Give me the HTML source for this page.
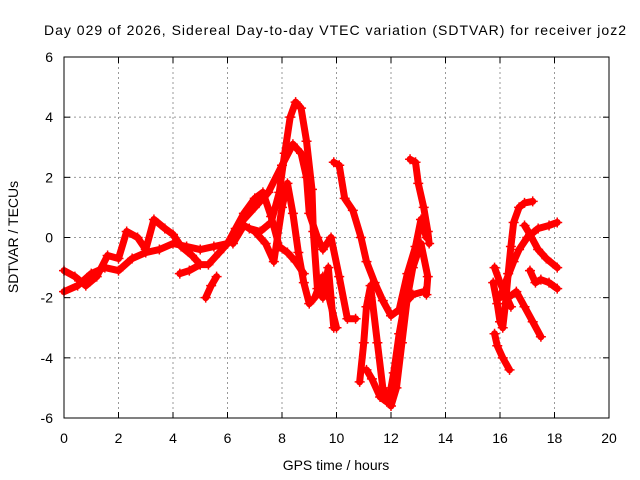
<!DOCTYPE html>
<html><head><meta charset="utf-8"><style>
body{margin:0;background:#fff}
svg{display:block;font-family:"Liberation Sans",sans-serif}
</style></head><body>
<svg id="chart" width="640" height="480">
<text x="335" y="35" font-size="14" text-anchor="middle" textLength="582">Day 029 of 2026, Sidereal Day-to-day VTEC variation (SDTVAR) for receiver joz2</text>
<text x="336" y="470" font-size="14" text-anchor="middle">GPS time / hours</text>
<text x="18" y="237" font-size="14" text-anchor="middle" transform="rotate(-90 18 237)">SDTVAR / TECUs</text>
<g id="grid"></g>
<g id="axes"></g>
<g id="series"></g>
<rect x="64" y="57" width="545" height="361" fill="none" stroke="#000" stroke-width="1"/>
</svg>
<script>
const xTicks=[0,2,4,6,8,10,12,14,16,18,20];
const yTicks=[-6,-4,-2,0,2,4,6];
const track1=[[0,-1.8],[0.5,-1.6],[1,-1.2],[1.5,-1.0],[2,-1.1],[2.5,-0.7],[3,-0.5],[3.5,-0.4],[4,-0.2],[4.5,-0.3],[5,-0.4],[5.5,-0.3],[6,-0.2],[6.5,0.5],[7,1.0],[7.5,1.5],[8,2.4],[8.4,3.1],[8.7,2.8],[8.9,2.0],[9,0.8],[9.3,0],[9.5,-0.4],[9.8,0],[10.1,-1.3],[10.4,-2.7],[10.7,-2.7]];
const track2=[[0,-1.1],[0.4,-1.3],[0.8,-1.6],[1.2,-1.3],[1.6,-0.6],[2,-0.7],[2.3,0.2],[2.7,0],[3,-0.4],[3.3,0.6],[3.7,0.3],[4,0.1],[4.3,-0.3],[4.7,-0.6],[5,-0.9],[5.3,-0.9],[5.7,-0.5],[6,-0.2],[6.3,0.3],[6.6,0.8],[7,1.3],[7.3,1.5],[7.6,0.7],[7.9,-0.3],[8.2,-0.5],[8.5,-0.8],[8.8,-1.2]];
const track3=[[6.8,0.3],[7.2,0.2],[7.6,0.5],[7.9,1.5],[8.1,2.8],[8.3,4.0],[8.5,4.5],[8.7,4.3],[8.9,3.2],[9.1,1.6],[9.15,0.2],[9.3,-1.7],[9.5,-2.0],[9.7,-1.0],[9.8,-2.0],[9.9,-3.0]];
const track4=[[6.2,-0.2],[6.6,0.4],[7,0.2],[7.4,-0.2],[7.7,-0.8],[8.0,1.0],[8.2,1.8],[8.4,0.8],[8.6,-0.5],[8.8,-1.5],[9.0,-2.2],[9.2,-2.0],[9.5,-1.3],[9.7,-1.9],[10,-3.0]];
const track5=[[9.9,2.5],[10.1,2.4],[10.3,1.3],[10.6,0.9],[10.9,0],[11.1,-0.8],[11.4,-1.5],[11.7,-2.1],[12,-2.6],[12.3,-2.4],[12.6,-1.2],[12.9,-0.3],[13.1,0.6],[13.3,0]];
const track6=[[12.7,2.6],[12.9,2.5],[13.0,1.8],[13.2,1.0],[13.35,0.2],[13.4,-0.2]];
const track7=[[10.85,-4.8],[11.0,-3.5],[11.1,-2.3],[11.25,-1.6],[11.5,-3.5],[11.7,-5.0],[12.0,-5.6],[12.2,-5.0],[12.4,-3.5],[12.6,-2.0],[12.8,-1.0],[13.1,-0.2],[13.35,-1.3],[13.3,-1.9]];
const track8=[[11.1,-4.4],[11.3,-4.7],[11.6,-5.3],[11.9,-5.5],[12.1,-4.5],[12.3,-3.2],[12.5,-2.2],[12.8,-1.9],[13.2,-1.8]];
const track9=[[4.25,-1.2],[4.6,-1.1],[5.0,-0.9]];
const track10=[[5.2,-2.0],[5.4,-1.6],[5.6,-1.3]];
const right1=[[15.75,-1.5],[15.9,-2.2],[16.0,-2.8],[16.1,-3.0],[16.2,-2.2],[16.3,-1.2],[16.4,-0.3],[16.5,0.5],[16.7,1.0],[16.9,1.15],[17.2,1.2]];
const right2=[[15.8,-3.2],[15.9,-3.6],[16.1,-4.0],[16.35,-4.4]];
const right3=[[16.0,-2.0],[16.2,-1.5],[16.5,-0.8],[16.7,-0.4],[17,0],[17.4,0.3],[17.8,0.4],[18.1,0.5]];
const right4=[[16.9,0.4],[17.1,0.1],[17.4,-0.4],[17.7,-0.7],[18.1,-1.0]];
const right5=[[17.1,-1.1],[17.3,-1.5],[17.5,-1.4],[17.8,-1.5],[18.1,-1.7]];
const right6=[[16.3,-2.0],[16.6,-1.8],[16.9,-2.3],[17.2,-2.8],[17.5,-3.3]];
const right7=[[15.8,-1.0],[16.0,-1.5],[16.2,-1.9],[16.4,-2.3]];
const tracks=[track1,track2,track3,track4,track5,track6,track7,track8,track9,track10,right1,right2,right3,right4,right5,right6,right7];

const NS='http://www.w3.org/2000/svg';
const X0=64,X1=609,Y0=418,Y1=57;
function xs(h){return X0+(h-0)/(20-0)*(X1-X0);}
function ys(v){return Y0-(v+6)/12*(Y0-Y1);}
function mk(tag,attrs,parent){const e=document.createElementNS(NS,tag);for(const k in attrs)e.setAttribute(k,attrs[k]);parent.appendChild(e);return e;}
const grid=document.getElementById('grid'),axes=document.getElementById('axes'),series=document.getElementById('series');
xTicks.forEach(t=>{
  const x=xs(t);
  if(t>0&&t<20){const g=mk('line',{x1:x,x2:x,y1:Y1,y2:Y0,stroke:'#999','stroke-dasharray':'2,3'},grid);
  
  }
  mk('line',{x1:x,x2:x,y1:Y0,y2:Y0-6,stroke:'#000'},axes);
  mk('line',{x1:x,x2:x,y1:Y1,y2:Y1+6,stroke:'#000'},axes);
  const l=mk('text',{x:x,y:443,'font-size':14,'text-anchor':'middle'},axes);l.textContent=t;
  
  
});
yTicks.forEach(t=>{
  const y=ys(t);
  if(t>-6&&t<6){const g=mk('line',{x1:X0,x2:X1,y1:y,y2:y,stroke:'#999','stroke-dasharray':'2,3'},grid);
  
  }
  mk('line',{x1:X0,x2:X0+6,y1:y,y2:y,stroke:'#000'},axes);
  mk('line',{x1:X1,x2:X1-6,y1:y,y2:y,stroke:'#000'},axes);
  const l=mk('text',{x:53,y:y+5,'font-size':14,'text-anchor':'end'},axes);l.textContent=t;
  
  
});
tracks.forEach(tr=>{
  const g=mk('g',{},series);
  
  
  mk('polyline',{points:tr.map(p=>xs(p[0])+','+ys(p[1])).join(' '),fill:'none',stroke:'#f00','stroke-width':7,'stroke-linejoin':'round','stroke-linecap':'round'},g);
  tr.forEach(p=>{
    const x=xs(p[0]),y=ys(p[1]);
    const m=mk('path',{d:`M${x-5},${y}H${x+5}M${x},${y-5}V${y+5}`,stroke:'#f00','stroke-width':1.5},g);
    
    
  });
});
</script>
</body></html>
